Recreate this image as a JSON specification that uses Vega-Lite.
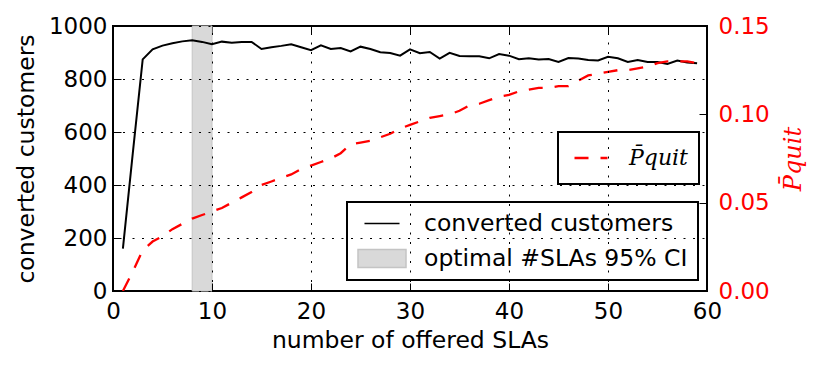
{
  "$schema": "https://vega.github.io/schema/vega-lite/v6.json",
  "width": 594,
  "height": 265,
  "autosize": {"type": "none"},
  "padding": {"left": 113, "top": 26, "right": 123, "bottom": 75},
  "background": "white",
  "config": {
    "view": {"stroke": "black", "strokeWidth": 2},
    "font": "DejaVu Sans",
    "legend": {"strokeWidth": 2, "cornerRadius": 0, "labelLimit": 500},
    "axis": {
      "labelFont": "DejaVu Sans",
      "titleFont": "DejaVu Sans",
      "labelFontSize": 23,
      "titleFontSize": 23.5,
      "titleFontWeight": "normal",
      "labelColor": "black",
      "titleColor": "black",
      "tickColor": "black",
      "tickWidth": 1,
      "labelFlush": false,
      "labelOverlap": false,
      "domain": false
    }
  },
  "datasets": {
    "main": [
      {"n": 1, "customers": 160, "pquit": 0.0},
      {"n": 2, "customers": 520, "pquit": 0.011},
      {"n": 3, "customers": 874, "pquit": 0.023},
      {"n": 4, "customers": 912, "pquit": 0.028},
      {"n": 5, "customers": 926, "pquit": 0.031},
      {"n": 6, "customers": 935, "pquit": 0.035},
      {"n": 7, "customers": 942, "pquit": 0.038},
      {"n": 8, "customers": 946, "pquit": 0.041},
      {"n": 9, "customers": 940, "pquit": 0.043},
      {"n": 10, "customers": 931, "pquit": 0.045},
      {"n": 11, "customers": 941, "pquit": 0.047},
      {"n": 12, "customers": 937, "pquit": 0.05},
      {"n": 13, "customers": 940, "pquit": 0.053},
      {"n": 14, "customers": 940, "pquit": 0.056},
      {"n": 15, "customers": 913, "pquit": 0.06},
      {"n": 16, "customers": 920, "pquit": 0.062},
      {"n": 17, "customers": 925, "pquit": 0.064},
      {"n": 18, "customers": 931, "pquit": 0.066},
      {"n": 19, "customers": 920, "pquit": 0.069},
      {"n": 20, "customers": 909, "pquit": 0.071},
      {"n": 21, "customers": 927, "pquit": 0.073},
      {"n": 22, "customers": 913, "pquit": 0.075},
      {"n": 23, "customers": 917, "pquit": 0.078},
      {"n": 24, "customers": 904, "pquit": 0.083},
      {"n": 25, "customers": 922, "pquit": 0.084},
      {"n": 26, "customers": 913, "pquit": 0.085},
      {"n": 27, "customers": 901, "pquit": 0.087},
      {"n": 28, "customers": 898, "pquit": 0.089},
      {"n": 29, "customers": 888, "pquit": 0.092},
      {"n": 30, "customers": 912, "pquit": 0.094},
      {"n": 31, "customers": 897, "pquit": 0.096},
      {"n": 32, "customers": 902, "pquit": 0.098},
      {"n": 33, "customers": 877, "pquit": 0.099},
      {"n": 34, "customers": 899, "pquit": 0.1},
      {"n": 35, "customers": 887, "pquit": 0.102},
      {"n": 36, "customers": 886, "pquit": 0.105},
      {"n": 37, "customers": 886, "pquit": 0.106},
      {"n": 38, "customers": 878, "pquit": 0.108},
      {"n": 39, "customers": 894, "pquit": 0.11},
      {"n": 40, "customers": 888, "pquit": 0.111},
      {"n": 41, "customers": 875, "pquit": 0.113},
      {"n": 42, "customers": 878, "pquit": 0.114},
      {"n": 43, "customers": 874, "pquit": 0.115},
      {"n": 44, "customers": 875, "pquit": 0.115},
      {"n": 45, "customers": 864, "pquit": 0.116},
      {"n": 46, "customers": 879, "pquit": 0.116},
      {"n": 47, "customers": 877, "pquit": 0.119},
      {"n": 48, "customers": 872, "pquit": 0.122},
      {"n": 49, "customers": 870, "pquit": 0.123},
      {"n": 50, "customers": 884, "pquit": 0.124},
      {"n": 51, "customers": 878, "pquit": 0.125},
      {"n": 52, "customers": 864, "pquit": 0.125},
      {"n": 53, "customers": 872, "pquit": 0.126},
      {"n": 54, "customers": 864, "pquit": 0.127},
      {"n": 55, "customers": 864, "pquit": 0.129},
      {"n": 56, "customers": 857, "pquit": 0.13},
      {"n": 57, "customers": 870, "pquit": 0.13},
      {"n": 58, "customers": 862, "pquit": 0.13},
      {"n": 59, "customers": 859, "pquit": 0.129}
    ],
    "band": [
      {"lo": 8, "hi": 10, "s": "optimal #SLAs 95% CI"}
    ]
  },
  "layer": [
    {
      "layer": [
        {
          "data": {"name": "band"},
          "mark": {"type": "rect", "strokeWidth": 1},
          "encoding": {
            "x": {"field": "lo", "type": "quantitative", "scale": {"domain": [0, 60], "nice": false},
                  "axis": {"orient": "bottom", "values": [0, 10, 20, 30, 40, 50, 60], "title": "number of offered SLAs",
                           "tickSize": -8, "labelPadding": 17, "titlePadding": 5,
                           "grid": true, "gridDash": [2, 7.5], "gridColor": "black", "gridOpacity": 1, "gridWidth": 1, "zindex": 1}},
            "x2": {"field": "hi"},
            "fill": {"field": "s", "type": "nominal",
                     "scale": {"domain": ["converted customers", "optimal #SLAs 95% CI"], "range": ["black", "#d9d9d9"]},
                     "legend": {"orient": "none", "legendX": 234, "legendY": 176, "title": null, "padding": 10,
                                "strokeColor": "black", "fillColor": "white", "labelFont": "DejaVu Sans", "labelFontSize": 23.5,
                                "labelColor": "black", "labelLimit": 500, "clipHeight": 23, "rowPadding": 11, "symbolSize": 2304, "symbolOffset": 0,
                                "labelOffset": 17, "symbolOpacity": 1, "symbolStrokeWidth": 1.5,
                                "symbolType": {"expr": "datum.value == 'converted customers' ? 'M-0.73,0H0.73' : 'M-1,-0.375H1V0.375H-1Z'"}}},
            "stroke": {"field": "s", "type": "nominal",
                       "scale": {"domain": ["converted customers", "optimal #SLAs 95% CI"], "range": ["black", "#c4c4c4"]},
                       "legend": {"orient": "none", "legendX": 234, "legendY": 176, "title": null, "padding": 10,
                                  "strokeColor": "black", "fillColor": "white", "labelFont": "DejaVu Sans", "labelFontSize": 23.5,
                                  "labelColor": "black", "labelLimit": 500, "clipHeight": 23, "rowPadding": 11, "symbolSize": 2304, "symbolOffset": 0,
                                  "labelOffset": 17, "symbolOpacity": 1, "symbolStrokeWidth": 1.5,
                                  "symbolType": {"expr": "datum.value == 'converted customers' ? 'M-0.73,0H0.73' : 'M-1,-0.375H1V0.375H-1Z'"}}}
          }
        },
        {
          "data": {"name": "main"},
          "mark": {"type": "line", "strokeWidth": 2},
          "encoding": {
            "x": {"field": "n", "type": "quantitative",
                  "axis": {"orient": "top", "values": [0, 10, 20, 30, 40, 50, 60], "labels": false, "title": null, "tickSize": -8, "grid": false}},
            "y": {"field": "customers", "type": "quantitative", "scale": {"domain": [0, 1000], "nice": false},
                  "axis": {"orient": "left", "values": [0, 200, 400, 600, 800, 1000], "format": "d", "title": "converted customers",
                           "tickSize": -8, "labelPadding": 14, "titlePadding": 10,
                           "grid": true, "gridDash": [2, 7.5], "gridColor": "black", "gridOpacity": 1, "gridWidth": 1, "zindex": 1}},
            "stroke": {"datum": "converted customers", "type": "nominal"}
          }
        }
      ]
    },
    {
      "data": {"name": "main"},
      "mark": {"type": "line", "color": "#ff0000", "strokeWidth": 2.3, "strokeCap": "butt"},
      "encoding": {
        "x": {"field": "n", "type": "quantitative", "axis": null},
        "y": {"field": "pquit", "type": "quantitative", "scale": {"domain": [0, 0.15], "nice": false},
              "axis": {"orient": "right", "values": [0, 0.05, 0.1, 0.15], "format": ".2f", "title": "P̄quit",
                       "labelColor": "#ff0000", "titleColor": "#ff0000", "titleFont": "DejaVu Serif", "titleFontStyle": "italic",
                       "titleFontSize": 24, "titleAngle": 270, "titleBaseline": "top", "tickSize": -8, "labelPadding": 19, "titlePadding": 12, "grid": false}},
        "strokeDash": {"datum": "P̄quit", "type": "nominal",
                       "scale": {"domain": ["P̄quit"], "range": [[14, 12]]},
                       "legend": {"orient": "none", "legendX": 445, "legendY": 106, "title": null, "padding": 11,
                                  "strokeColor": "black", "fillColor": "white", "labelFont": "DejaVu Serif", "labelFontStyle": "italic",
                                  "labelFontSize": 22, "labelColor": "black", "clipHeight": 30, "symbolSize": 1089,
                                  "symbolOffset": 4, "labelOffset": 20, "symbolStrokeWidth": 2.3, "symbolStrokeColor": "#ff0000",
                                  "symbolType": "stroke", "symbolOpacity": 1}}
      }
    }
  ],
  "resolve": {"scale": {"y": "independent"}}
}
